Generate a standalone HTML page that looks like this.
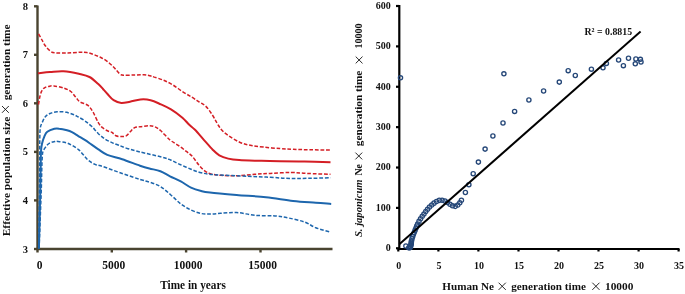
<!DOCTYPE html>
<html><head><meta charset="utf-8"><style>
html,body{margin:0;padding:0;background:#fff;width:685px;height:294px;overflow:hidden;font-family:"Liberation Serif",serif;}
svg{display:block;will-change:transform}
</style></head><body>
<svg width="685" height="294" viewBox="0 0 685 294">
<rect width="685" height="294" fill="#fff"/>
<g stroke="#4a4430" stroke-width="2.4" fill="none">
<line x1="37.5" y1="5.5" x2="37.5" y2="250"/>
<line x1="36.5" y1="249" x2="332.5" y2="249"/>
<line x1="34" y1="6.3" x2="37.5" y2="6.3"/>
<line x1="34" y1="54.8" x2="37.5" y2="54.8"/>
<line x1="34" y1="103.3" x2="37.5" y2="103.3"/>
<line x1="34" y1="151.9" x2="37.5" y2="151.9"/>
<line x1="34" y1="200.4" x2="37.5" y2="200.4"/>
<line x1="34" y1="249" x2="37.5" y2="249"/>
<line x1="37.5" y1="249" x2="37.5" y2="252.5"/>
<line x1="111.8" y1="249" x2="111.8" y2="252.5"/>
<line x1="186.1" y1="249" x2="186.1" y2="252.5"/>
<line x1="260.5" y1="249" x2="260.5" y2="252.5"/>
</g>
<g fill="none" stroke-linejoin="round">
<path d="M38.6,33.9 C39.2,34.9 40.9,38.0 42.0,40.0 C43.1,42.0 44.1,44.1 45.5,46.0 C46.9,47.9 48.9,50.1 50.5,51.2 C52.1,52.3 52.1,52.5 55.0,52.8 C57.9,53.1 63.6,53.1 67.8,53.0 C72.0,52.9 76.8,52.3 80.0,52.2 C83.2,52.1 84.5,52.1 86.8,52.5 C89.1,52.9 91.3,53.7 93.6,54.5 C95.9,55.3 98.1,56.2 100.4,57.3 C102.7,58.4 104.9,59.6 107.2,61.3 C109.5,63.0 112.0,65.5 114.0,67.5 C116.0,69.5 117.9,72.3 119.5,73.6 C121.1,74.9 121.1,75.0 123.6,75.2 C126.1,75.4 131.1,75.1 134.5,75.0 C137.9,74.9 141.4,74.6 144.0,74.7 C146.6,74.8 148.3,75.4 150.0,75.8 C151.7,76.2 152.0,76.3 154.3,77.1 C156.6,77.8 160.6,79.0 163.7,80.3 C166.8,81.6 169.9,83.1 173.0,85.0 C176.1,86.9 179.3,89.5 182.4,91.5 C185.5,93.5 188.9,95.4 191.7,97.1 C194.5,98.8 196.6,100.2 199.0,101.8 C201.4,103.4 203.8,104.3 206.1,106.6 C208.4,108.9 210.9,112.7 212.7,115.5 C214.5,118.3 215.6,120.8 217.1,123.2 C218.6,125.6 219.7,127.8 221.5,129.8 C223.3,131.8 225.2,133.4 228.2,135.4 C231.1,137.4 235.5,140.3 239.2,142.0 C242.9,143.7 246.2,144.5 250.3,145.3 C254.4,146.2 258.6,146.6 263.5,147.1 C268.4,147.6 275.1,148.2 280.0,148.6 C284.9,149.0 288.1,149.1 293.1,149.3 C298.1,149.5 303.8,149.7 310.0,149.8 C316.2,149.9 327.1,150.0 330.5,150.0" stroke="#d41e25" stroke-width="1.5" stroke-dasharray="3.7,1.8"/>
<path d="M38.5,104.5 C38.8,103.1 39.4,98.3 40.0,96.0 C40.6,93.7 41.1,92.0 41.9,90.6 C42.6,89.2 43.4,88.5 44.5,87.8 C45.6,87.1 47.2,86.7 48.7,86.4 C50.2,86.1 51.2,85.6 53.8,85.9 C56.3,86.2 61.2,87.2 64.0,88.1 C66.8,89.0 68.8,90.0 70.8,91.5 C72.8,93.0 74.4,95.7 75.9,97.4 C77.4,99.1 78.0,100.6 79.9,101.9 C81.9,103.2 85.4,103.5 87.6,105.2 C89.8,106.9 91.2,109.0 93.0,112.0 C94.8,115.0 96.8,120.3 98.4,122.9 C100.0,125.5 100.9,126.2 102.5,127.6 C104.1,128.9 106.3,130.2 107.9,131.0 C109.5,131.8 110.7,131.6 112.0,132.4 C113.3,133.2 114.4,135.1 116.0,135.8 C117.6,136.5 119.8,136.6 121.5,136.6 C123.2,136.6 124.6,136.7 126.1,135.9 C127.5,135.1 128.8,133.2 130.2,131.8 C131.6,130.5 132.6,128.7 134.3,127.8 C136.0,126.9 138.0,127.0 140.4,126.7 C142.8,126.4 146.2,125.7 148.6,125.7 C151.0,125.7 152.7,125.8 154.7,126.7 C156.7,127.6 158.2,128.6 160.8,130.8 C163.4,133.0 167.1,137.6 170.0,140.0 C172.9,142.4 175.5,143.4 178.2,145.3 C180.9,147.2 183.9,149.5 186.3,151.4 C188.7,153.3 190.4,154.3 192.4,156.5 C194.4,158.7 196.6,162.3 198.6,164.7 C200.6,167.1 202.7,169.3 204.7,170.8 C206.7,172.3 208.1,173.2 210.8,173.9 C213.5,174.7 216.7,175.0 221.0,175.3 C225.3,175.6 231.0,176.0 236.6,175.8 C242.2,175.6 249.0,174.7 254.7,174.3 C260.3,173.9 264.5,173.7 270.5,173.4 C276.5,173.1 284.9,172.5 290.9,172.5 C296.9,172.5 300.1,173.1 306.7,173.4 C313.3,173.7 326.5,174.2 330.5,174.3" stroke="#d41e25" stroke-width="1.5" stroke-dasharray="3.7,1.8"/>
<path d="M38.0,73.3 C40.0,73.1 45.8,72.3 50.0,72.0 C54.2,71.7 58.7,70.9 63.5,71.2 C68.3,71.5 74.5,72.8 78.8,73.8 C83.1,74.8 86.2,75.3 89.5,77.0 C92.8,78.7 96.0,82.1 98.3,84.1 C100.5,86.1 101.5,87.3 103.0,89.0 C104.5,90.7 105.7,92.1 107.5,94.0 C109.3,95.9 111.3,98.7 113.6,100.2 C115.9,101.7 118.6,102.8 121.3,103.0 C124.0,103.2 126.8,102.3 130.0,101.7 C133.2,101.1 137.0,99.8 140.4,99.5 C143.8,99.2 147.2,99.4 150.6,100.2 C154.0,101.0 157.4,102.8 160.8,104.3 C164.2,105.8 167.4,107.2 171.0,109.4 C174.6,111.6 179.4,115.2 182.4,117.7 C185.4,120.2 186.9,122.5 189.0,124.5 C191.1,126.5 192.5,127.3 195.0,129.8 C197.5,132.4 200.9,136.5 203.8,139.8 C206.8,143.1 210.1,147.1 212.7,149.7 C215.3,152.3 216.7,153.8 219.3,155.3 C221.9,156.8 224.9,157.8 228.2,158.6 C231.5,159.4 233.7,159.7 239.2,160.1 C244.7,160.5 254.5,160.6 261.3,160.8 C268.1,161.0 272.8,161.1 280.0,161.2 C287.2,161.3 296.1,161.4 304.5,161.6 C312.9,161.8 326.2,162.2 330.5,162.3" stroke="#d41e25" stroke-width="2"/>
<path d="M38.8,248.5 C38.9,239.6 39.2,209.8 39.4,195.0 C39.5,180.2 39.6,169.5 39.7,160.0 C39.8,150.5 39.7,143.3 39.8,138.0 C39.9,132.7 39.9,130.6 40.3,128.0 C40.7,125.4 41.3,124.4 42.2,122.5 C43.1,120.6 44.2,118.0 45.5,116.5 C46.8,115.0 48.1,114.3 50.0,113.5 C51.9,112.7 54.5,112.0 57.0,111.8 C59.5,111.6 62.5,111.6 65.2,112.1 C67.9,112.5 71.2,113.7 73.3,114.5 C75.4,115.3 76.1,115.8 78.0,116.8 C79.9,117.8 82.5,119.2 84.8,120.8 C87.1,122.4 89.3,124.2 91.6,126.3 C93.9,128.4 96.1,131.5 98.4,133.7 C100.7,135.8 102.9,137.7 105.2,139.2 C107.5,140.7 109.7,141.6 112.0,142.6 C114.3,143.6 116.1,144.3 118.8,145.3 C121.5,146.3 124.5,147.6 128.0,148.7 C131.6,149.8 134.4,150.6 140.1,152.0 C145.8,153.4 156.9,155.8 162.0,157.1 C167.1,158.4 167.6,158.8 170.6,160.0 C173.6,161.2 176.6,163.0 180.0,164.5 C183.4,166.0 187.5,167.8 191.0,169.2 C194.5,170.6 197.4,171.8 201.2,172.7 C205.0,173.6 206.1,174.0 213.9,174.6 C221.7,175.2 238.5,175.9 247.9,176.3 C257.3,176.8 263.5,176.9 270.5,177.3 C277.5,177.7 283.4,178.3 290.0,178.5 C296.6,178.7 303.2,178.4 310.0,178.3 C316.8,178.2 327.1,177.8 330.5,177.7" stroke="#1d66ad" stroke-width="1.5" stroke-dasharray="3.7,1.8"/>
<path d="M39.1,248.5 C39.4,239.6 40.6,208.9 41.1,195.0 C41.6,181.1 41.7,171.2 41.9,165.0 C42.1,158.8 42.1,160.2 42.2,158.0 C42.4,155.8 42.3,153.7 42.8,152.0 C43.3,150.3 44.2,149.0 45.2,147.6 C46.2,146.2 47.5,144.5 49.0,143.5 C50.5,142.5 52.5,142.0 54.0,141.7 C55.5,141.4 55.7,141.2 58.0,141.5 C60.3,141.8 64.3,141.9 67.8,143.3 C71.3,144.7 75.5,147.2 78.8,149.9 C82.1,152.6 84.9,157.3 87.6,159.7 C90.3,162.1 92.8,163.4 95.0,164.4 C97.2,165.4 96.2,164.3 100.7,165.8 C105.2,167.3 115.7,171.2 122.2,173.5 C128.8,175.8 135.3,177.9 140.0,179.4 C144.7,180.9 146.8,181.2 150.2,182.4 C153.6,183.6 157.0,184.4 160.4,186.5 C163.8,188.6 167.2,191.8 170.6,194.7 C174.0,197.6 177.4,201.3 180.8,203.9 C184.2,206.5 187.6,208.4 191.0,210.0 C194.4,211.6 198.0,212.8 201.2,213.5 C204.4,214.2 206.8,214.0 210.0,214.0 C213.2,214.0 216.3,213.6 220.7,213.3 C225.1,213.1 230.9,212.2 236.6,212.5 C242.3,212.8 248.3,214.7 254.7,215.3 C261.1,215.9 269.4,215.5 275.0,215.9 C280.6,216.3 283.7,217.0 288.6,218.0 C293.5,219.0 300.0,220.4 304.5,222.0 C309.0,223.6 311.5,226.0 315.8,227.7 C320.1,229.4 328.1,231.4 330.5,232.2" stroke="#1d66ad" stroke-width="1.5" stroke-dasharray="3.7,1.8"/>
<path d="M38.9,248.5 C39.1,239.6 39.9,209.8 40.2,195.0 C40.5,180.2 40.6,167.5 40.8,160.0 C40.9,152.5 40.9,152.7 41.1,150.0 C41.3,147.3 41.5,146.1 42.0,143.8 C42.5,141.5 43.5,138.4 44.4,136.4 C45.3,134.4 45.6,133.1 47.3,131.8 C49.0,130.5 52.4,129.3 54.4,128.8 C56.4,128.3 57.0,128.4 59.1,128.7 C61.2,128.9 64.8,129.7 67.0,130.3 C69.2,130.9 70.2,131.3 72.0,132.2 C73.8,133.1 75.9,134.5 78.0,135.8 C80.1,137.1 82.5,138.4 84.8,139.9 C87.1,141.4 89.3,143.0 91.6,144.6 C93.9,146.2 95.8,147.7 98.4,149.4 C101.0,151.1 103.3,153.2 107.3,154.9 C111.3,156.6 116.8,157.5 122.2,159.3 C127.7,161.1 135.5,164.2 140.0,165.7 C144.5,167.2 146.0,167.6 149.4,168.5 C152.8,169.4 157.0,169.9 160.4,171.2 C163.8,172.5 166.6,174.6 170.0,176.3 C173.4,178.0 177.3,179.5 180.8,181.4 C184.3,183.3 187.6,186.0 191.0,187.6 C194.4,189.2 198.0,190.2 201.2,191.0 C204.4,191.8 204.1,191.8 210.0,192.4 C215.9,193.1 227.3,194.1 236.6,194.9 C245.9,195.7 256.6,196.2 266.0,197.2 C275.4,198.2 284.8,200.1 293.1,201.0 C301.4,201.9 309.5,202.3 315.8,202.8 C322.1,203.3 328.6,203.7 331.2,203.9" stroke="#1d66ad" stroke-width="2"/>
</g>
<g font-family="'Liberation Serif', serif" font-weight="bold" font-size="10.5" fill="#111" text-anchor="end">
<text x="28" y="9.6">8</text>
<text x="28" y="58.1">7</text>
<text x="28" y="106.6">6</text>
<text x="28" y="155.1">5</text>
<text x="28" y="203.6">4</text>
<text x="28" y="252.6">3</text>
</g>
<g font-family="'Liberation Serif', serif" font-weight="bold" font-size="11.5" fill="#111" text-anchor="middle">
<text x="39.5" y="268.8">0</text>
<text x="113.8" y="268.8">5000</text>
<text x="188.1" y="268.8">10000</text>
<text x="262.5" y="268.8">15000</text>
</g>
<text font-family="'Liberation Serif', serif" font-weight="bold" font-size="12.5" fill="#111" x="160.3" y="289.3" textLength="65.5" lengthAdjust="spacingAndGlyphs">Time in years</text>
<text font-family="'Liberation Serif', serif" font-weight="bold"  font-size="10.5" fill="#111" transform="translate(9.7,236.3) rotate(-90)" x="0" y="0" textLength="119.7" lengthAdjust="spacingAndGlyphs">Effective population size</text>
<text font-family="'Liberation Serif', serif" font-weight="bold"  font-size="10.5" fill="#111" transform="translate(9.7,100.3) rotate(-90)" x="0" y="0" textLength="75.8" lengthAdjust="spacingAndGlyphs">generation time</text>
<path d="M2.0000000000000004,106.0L8.8,112.80000000000001M8.8,106.0L2.0000000000000004,112.80000000000001" stroke="#111" stroke-width="0.9"/>
<g stroke="#000" stroke-width="2.2" fill="none">
<line x1="399.3" y1="5" x2="399.3" y2="250"/>
<line x1="398.3" y1="249" x2="679.5" y2="249"/>
<line x1="396" y1="6.0" x2="399.3" y2="6.0"/>
<line x1="396" y1="46.38" x2="399.3" y2="46.38"/>
<line x1="396" y1="86.76" x2="399.3" y2="86.76"/>
<line x1="396" y1="127.14000000000001" x2="399.3" y2="127.14000000000001"/>
<line x1="396" y1="167.52" x2="399.3" y2="167.52"/>
<line x1="396" y1="207.9" x2="399.3" y2="207.9"/>
<line x1="396" y1="248.28000000000003" x2="399.3" y2="248.28000000000003"/>
<line x1="398.3" y1="249" x2="398.3" y2="251.5"/>
<line x1="438.4" y1="249" x2="438.4" y2="251.5"/>
<line x1="478.4" y1="249" x2="478.4" y2="251.5"/>
<line x1="518.5" y1="249" x2="518.5" y2="251.5"/>
<line x1="558.5" y1="249" x2="558.5" y2="251.5"/>
<line x1="598.5" y1="249" x2="598.5" y2="251.5"/>
<line x1="638.6" y1="249" x2="638.6" y2="251.5"/>
<line x1="678.6" y1="249" x2="678.6" y2="251.5"/>
</g>
<g font-family="'Liberation Serif', serif" font-weight="bold" font-size="10" fill="#111" text-anchor="end">
<text x="390.8" y="8.8">600</text>
<text x="390.8" y="49.2">500</text>
<text x="390.8" y="89.6">400</text>
<text x="390.8" y="129.9">300</text>
<text x="390.8" y="170.3">200</text>
<text x="390.8" y="210.7">100</text>
<text x="390.8" y="251.1">0</text>
</g>
<g font-family="'Liberation Serif', serif" font-weight="bold" font-size="10" fill="#111" text-anchor="middle">
<text x="398.8" y="268.5">0</text>
<text x="438.9" y="268.5">5</text>
<text x="478.9" y="268.5">10</text>
<text x="519.0" y="268.5">15</text>
<text x="559.0" y="268.5">20</text>
<text x="599.0" y="268.5">25</text>
<text x="639.1" y="268.5">30</text>
<text x="679.1" y="268.5">35</text>
</g>
<text font-family="'Liberation Serif', serif" font-weight="bold" font-size="10" fill="#111" x="584.5" y="35.4" textLength="47.6" lengthAdjust="spacingAndGlyphs">R² = 0.8815</text>
<text font-family="'Liberation Serif', serif" font-weight="bold" font-size="10.5" fill="#111" x="442.3" y="289.8" textLength="51.7" lengthAdjust="spacingAndGlyphs">Human Ne</text>
<path d="M498.59999999999997,282.7L505.8,289.90000000000003M505.8,282.7L498.59999999999997,289.90000000000003" stroke="#111" stroke-width="0.9"/>
<text font-family="'Liberation Serif', serif" font-weight="bold" font-size="10.5" fill="#111" x="511.3" y="289.8" textLength="74.6" lengthAdjust="spacingAndGlyphs">generation time</text>
<path d="M592.3,282.7L599.5,289.90000000000003M599.5,282.7L592.3,289.90000000000003" stroke="#111" stroke-width="0.9"/>
<text font-family="'Liberation Serif', serif" font-weight="bold" font-size="10.5" fill="#111" x="605" y="289.8" textLength="28.4" lengthAdjust="spacingAndGlyphs">10000</text>
<text font-family="'Liberation Serif', serif" font-weight="bold" font-style="italic" font-size="10.5" fill="#111" transform="translate(362.2,237) rotate(-90)" x="0" y="0" textLength="57.5" lengthAdjust="spacingAndGlyphs">S. japonicum</text>
<text font-family="'Liberation Serif', serif" font-weight="bold"  font-size="10.5" fill="#111" transform="translate(362.2,175.5) rotate(-90)" x="0" y="0" textLength="11.5" lengthAdjust="spacingAndGlyphs">Ne</text>
<path d="M355.40000000000003,152.6L362.2,159.4M362.2,152.6L355.40000000000003,159.4" stroke="#111" stroke-width="0.9"/>
<text font-family="'Liberation Serif', serif" font-weight="bold"  font-size="10.5" fill="#111" transform="translate(362.2,146.2) rotate(-90)" x="0" y="0" textLength="75.6" lengthAdjust="spacingAndGlyphs">generation time</text>
<path d="M355.70000000000005,56.6L362.5,63.4M362.5,56.6L355.70000000000005,63.4" stroke="#111" stroke-width="0.9"/>
<text font-family="'Liberation Serif', serif" font-weight="bold"  font-size="10.5" fill="#111" transform="translate(362.2,48.5) rotate(-90)" x="0" y="0" textLength="25.1" lengthAdjust="spacingAndGlyphs">10000</text>
<g fill="none" stroke="#254778" stroke-width="1.25">
<circle cx="405.90" cy="246.00" r="2.15"/>
<circle cx="408.70" cy="247.80" r="2.15"/>
<circle cx="409.66" cy="247.74" r="2.15"/>
<circle cx="410.38" cy="247.35" r="2.15"/>
<circle cx="410.62" cy="246.30" r="2.15"/>
<circle cx="410.86" cy="245.25" r="2.15"/>
<circle cx="411.10" cy="244.20" r="2.15"/>
<circle cx="411.23" cy="243.15" r="2.15"/>
<circle cx="411.35" cy="242.10" r="2.15"/>
<circle cx="411.48" cy="241.05" r="2.15"/>
<circle cx="411.96" cy="238.88" r="2.15"/>
<circle cx="412.64" cy="236.75" r="2.15"/>
<circle cx="413.36" cy="234.60" r="2.15"/>
<circle cx="414.20" cy="232.50" r="2.15"/>
<circle cx="415.05" cy="230.38" r="2.15"/>
<circle cx="415.90" cy="228.25" r="2.15"/>
<circle cx="416.75" cy="226.12" r="2.15"/>
<circle cx="417.65" cy="224.05" r="2.15"/>
<circle cx="419.00" cy="221.38" r="2.15"/>
<circle cx="420.54" cy="218.81" r="2.15"/>
<circle cx="422.25" cy="216.30" r="2.15"/>
<circle cx="423.96" cy="213.92" r="2.15"/>
<circle cx="425.73" cy="211.49" r="2.15"/>
<circle cx="427.55" cy="209.21" r="2.15"/>
<circle cx="429.50" cy="207.00" r="2.15"/>
<circle cx="431.71" cy="204.96" r="2.15"/>
<circle cx="433.99" cy="203.13" r="2.15"/>
<circle cx="436.48" cy="201.48" r="2.15"/>
<circle cx="439.25" cy="200.36" r="2.15"/>
<circle cx="442.10" cy="200.15" r="2.15"/>
<circle cx="444.95" cy="200.98" r="2.15"/>
<circle cx="447.55" cy="202.50" r="2.15"/>
<circle cx="449.98" cy="204.25" r="2.15"/>
<circle cx="452.50" cy="205.80" r="2.15"/>
<circle cx="455.22" cy="206.36" r="2.15"/>
<circle cx="457.74" cy="205.03" r="2.15"/>
<circle cx="459.80" cy="202.80" r="2.15"/>
<circle cx="461.43" cy="200.20" r="2.15"/>
</g>
<g fill="none" stroke="#254778" stroke-width="1.35">
<circle cx="400.50" cy="77.80" r="2.1"/>
<circle cx="465.40" cy="192.50" r="2.1"/>
<circle cx="468.90" cy="184.70" r="2.1"/>
<circle cx="473.20" cy="173.70" r="2.1"/>
<circle cx="478.40" cy="162.10" r="2.1"/>
<circle cx="485.10" cy="149.10" r="2.1"/>
<circle cx="492.90" cy="136.00" r="2.1"/>
<circle cx="503.00" cy="123.00" r="2.1"/>
<circle cx="514.60" cy="111.40" r="2.1"/>
<circle cx="503.90" cy="73.80" r="2.1"/>
<circle cx="528.90" cy="100.00" r="2.1"/>
<circle cx="543.60" cy="91.00" r="2.1"/>
<circle cx="559.30" cy="82.10" r="2.1"/>
<circle cx="568.20" cy="70.70" r="2.1"/>
<circle cx="575.30" cy="75.50" r="2.1"/>
<circle cx="591.40" cy="69.20" r="2.1"/>
<circle cx="603.00" cy="67.80" r="2.1"/>
<circle cx="606.40" cy="63.40" r="2.1"/>
<circle cx="618.60" cy="60.00" r="2.1"/>
<circle cx="623.40" cy="65.70" r="2.1"/>
<circle cx="628.50" cy="58.20" r="2.1"/>
<circle cx="635.90" cy="59.00" r="2.1"/>
<circle cx="635.30" cy="63.80" r="2.1"/>
<circle cx="640.40" cy="59.30" r="2.1"/>
<circle cx="641.00" cy="62.00" r="2.1"/>
</g>
<line x1="399.3" y1="244.2" x2="640.6" y2="31.5" stroke="#000" stroke-width="1.9"/>
</svg>
</body></html>
